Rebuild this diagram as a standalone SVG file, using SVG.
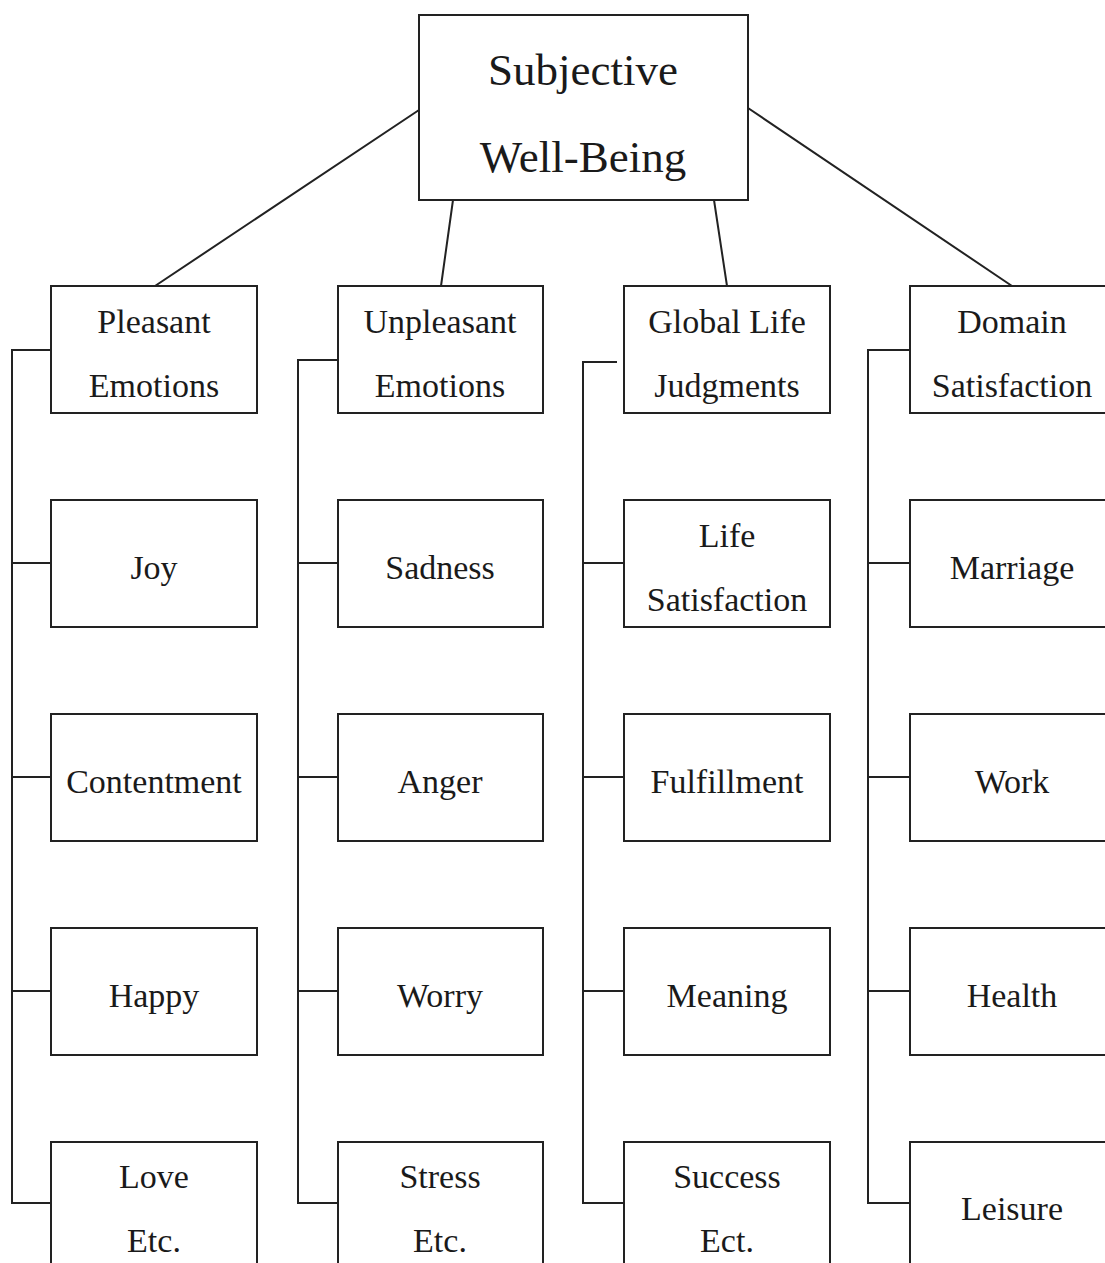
<svg xmlns="http://www.w3.org/2000/svg" width="1105" height="1263" viewBox="0 0 1105 1263">
<style>
.box{fill:#fff;stroke:#222;stroke-width:2}
.ln{fill:none;stroke:#222;stroke-width:2}
text{font-family:"Liberation Serif","Times New Roman",serif;fill:#1a1a1a;text-anchor:middle}
.t{font-size:45px}
.s{font-size:34px}
</style>
<rect width="1105" height="1263" fill="#fff"/>
<g id="connectors">
<path class="ln" d="M419 110 L155 286 M453 200 L441 286 M714 200 L727 286 M748 108 L1012 286"/>
<path class="ln" d="M51 350 H12 V1203 H51 M12 563 H51 M12 777 H51 M12 991 H51"/>
<path class="ln" d="M338 360 H298 V1203 H338 M298 563 H338 M298 777 H338 M298 991 H338"/>
<path class="ln" d="M617 362 H583 V1203 H624 M583 563 H624 M583 777 H624 M583 991 H624"/>
<path class="ln" d="M910 350 H868 V1203 H910 M868 563 H910 M868 777 H910 M868 991 H910"/>
</g>
<g id="swb"><rect class="box" x="419" y="15" width="329" height="185"/><text class="t" x="583" y="85">Subjective</text><text class="t" x="583" y="172">Well-Being</text></g>

<g id="pleasant"><rect class="box" x="51" y="286" width="206" height="127"/><text class="s" x="154" y="333">Pleasant</text><text class="s" x="154" y="397">Emotions</text></g>
<g id="joy"><rect class="box" x="51" y="500" width="206" height="127"/><text class="s" x="154" y="579">Joy</text></g>
<g id="contentment"><rect class="box" x="51" y="714" width="206" height="127"/><text class="s" x="154" y="793">Contentment</text></g>
<g id="happy"><rect class="box" x="51" y="928" width="206" height="127"/><text class="s" x="154" y="1007">Happy</text></g>
<g id="love"><rect class="box" x="51" y="1142" width="206" height="127"/><text class="s" x="154" y="1188">Love</text><text class="s" x="154" y="1252">Etc.</text></g>

<g id="unpleasant"><rect class="box" x="338" y="286" width="205" height="127"/><text class="s" x="440" y="333">Unpleasant</text><text class="s" x="440" y="397">Emotions</text></g>
<g id="sadness"><rect class="box" x="338" y="500" width="205" height="127"/><text class="s" x="440" y="579">Sadness</text></g>
<g id="anger"><rect class="box" x="338" y="714" width="205" height="127"/><text class="s" x="440" y="793">Anger</text></g>
<g id="worry"><rect class="box" x="338" y="928" width="205" height="127"/><text class="s" x="440" y="1007">Worry</text></g>
<g id="stress"><rect class="box" x="338" y="1142" width="205" height="127"/><text class="s" x="440" y="1188">Stress</text><text class="s" x="440" y="1252">Etc.</text></g>

<g id="global"><rect class="box" x="624" y="286" width="206" height="127"/><text class="s" x="727" y="333">Global Life</text><text class="s" x="727" y="397">Judgments</text></g>
<g id="lifesat"><rect class="box" x="624" y="500" width="206" height="127"/><text class="s" x="727" y="547">Life</text><text class="s" x="727" y="611">Satisfaction</text></g>
<g id="fulfillment"><rect class="box" x="624" y="714" width="206" height="127"/><text class="s" x="727" y="793">Fulfillment</text></g>
<g id="meaning"><rect class="box" x="624" y="928" width="206" height="127"/><text class="s" x="727" y="1007">Meaning</text></g>
<g id="success"><rect class="box" x="624" y="1142" width="206" height="127"/><text class="s" x="727" y="1188">Success</text><text class="s" x="727" y="1252">Ect.</text></g>

<g id="domain"><rect class="box" x="910" y="286" width="206" height="127"/><text class="s" x="1012" y="333">Domain</text><text class="s" x="1012" y="397">Satisfaction</text></g>
<g id="marriage"><rect class="box" x="910" y="500" width="206" height="127"/><text class="s" x="1012" y="579">Marriage</text></g>
<g id="work"><rect class="box" x="910" y="714" width="206" height="127"/><text class="s" x="1012" y="793">Work</text></g>
<g id="health"><rect class="box" x="910" y="928" width="206" height="127"/><text class="s" x="1012" y="1007">Health</text></g>
<g id="leisure"><rect class="box" x="910" y="1142" width="206" height="127"/><text class="s" x="1012" y="1220">Leisure</text></g>
</svg>
